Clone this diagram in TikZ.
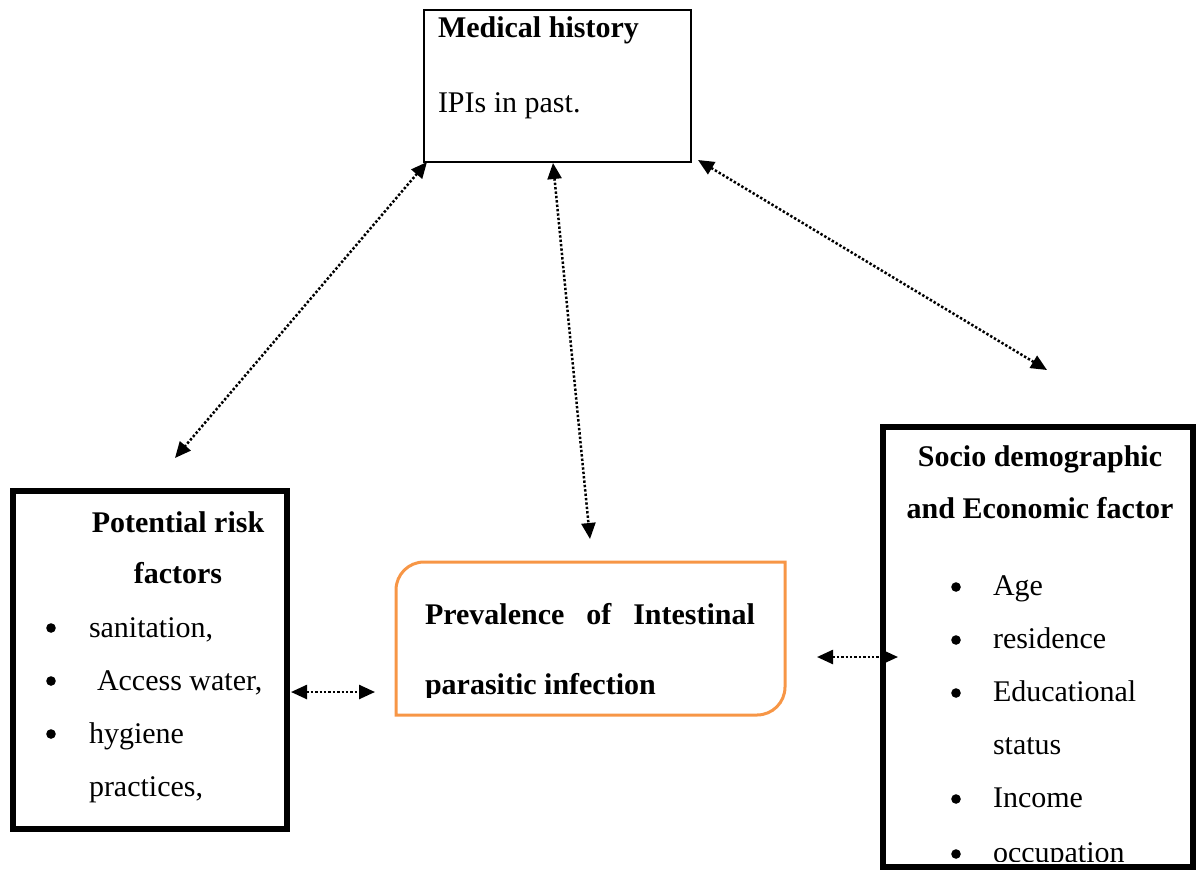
\documentclass[tikz,border=0pt]{standalone}
\usepackage{fontspec}
\setmainfont{Liberation Serif}
\usetikzlibrary{arrows.meta}
\definecolor{boxorange}{HTML}{F79646}
\begin{document}
\begin{tikzpicture}[x=0.5pt,y=-0.5pt,
  txt/.style={inner sep=0pt, outer sep=0pt, anchor=base west, font=\fontsize{15pt}{18pt}\selectfont},
  ctxt/.style={txt, anchor=base},
  btxt/.style={txt, font=\fontsize{15pt}{18pt}\selectfont\bfseries},
  cbtxt/.style={btxt, anchor=base},
  bul/.style={circle, fill=black, inner sep=0pt, outer sep=0pt, minimum size=4.8pt},
  thinbox/.style={draw, line width=1.25pt, inner sep=0pt, outer sep=0pt},
  thickbox/.style={draw, line width=3pt, inner sep=0pt, outer sep=0pt},
  link/.style={line width=1.25pt, dash pattern=on 1.2pt off 1pt,
    {Triangle[length=8pt,width=7pt]}-{Triangle[length=8pt,width=7pt]}}
]
\useasboundingbox (0,0) rectangle (1199,873);

% Medical history box
\node[thinbox, minimum width=133.5pt, minimum height=76pt] (mh) at (557.5,86) {};
\node[btxt] (mhtitle) at (438,37) {Medical history};
\node[txt] (mhtext) at (438,112) {IPIs in past.};

% Potential risk factors box
\node[thickbox, minimum width=137pt, minimum height=169pt] (risk) at (150,660) {};
\node[cbtxt] (risk1) at (178,532) {Potential risk};
\node[cbtxt] (risk2) at (178,583) {factors};
\node[bul] (rb1) at (51,628) {};
\node[txt] (ri1) at (89,637) {sanitation,};
\node[bul] (rb2) at (51,681) {};
\node[txt] (ri2) at (97,690) {Access water,};
\node[bul] (rb3) at (51,734) {};
\node[txt] (ri3) at (89,743) {hygiene};
\node[txt] (ri4) at (89,796) {practices,};

% Prevalence box (orange, two rounded corners)
\draw[boxorange, line width=1.5pt] (396,715) -- (396,590)
  .. controls (396,574.5) and (408.5,562) .. (424,562) -- (785,562) -- (785,687)
  .. controls (785,702.5) and (772.5,715) .. (757,715) -- cycle;
\node[btxt] (prev1) at (425,624) {\makebox[165pt][s]{Prevalence of Intestinal}};
\begin{scope}
  \clip (400,640) rectangle (780,697);
  \node[btxt] (prev2) at (425,694) {parasitic infection};
\end{scope}

% Socio demographic box
\node[thickbox, minimum width=155pt, minimum height=220pt] (socio) at (1038,647) {};
\node[cbtxt] (so1) at (1040,466) {Socio demographic};
\node[cbtxt] (so2) at (1040,518) {and Economic factor};
\node[bul] (sb1) at (956,587) {};
\node[txt] (si1) at (993,595) {Age};
\node[bul] (sb2) at (956,640) {};
\node[txt] (si2) at (993,648) {residence};
\node[bul] (sb3) at (956,693) {};
\node[txt] (si3) at (993,701) {Educational};
\node[txt] (si4) at (993,754) {status};
\node[bul] (sb5) at (956,799) {};
\node[txt] (si5) at (993,807) {Income};
\begin{scope}
  \clip (890,820) rectangle (1190,861);
  \node[bul] (sb6) at (956,854) {};
  \node[txt] (si6) at (993,862) {occupation};
\end{scope}

% connector end points
\coordinate (mhA) at (427,162);
\coordinate (riskA) at (175,458);
\coordinate (mhB) at (553,163);
\coordinate (prevB) at (590,539);
\coordinate (mhC) at (698,160);
\coordinate (socioC) at (1047,370);
\coordinate (riskD) at (291,692);
\coordinate (prevD) at (375,692);
\coordinate (prevE) at (817,657);
\coordinate (socioE) at (898,657);

\draw[link] (mhA) -- (riskA);
\draw[link] (mhB) -- (prevB);
\draw[link] (mhC) -- (socioC);
\draw[link] (riskD) -- (prevD);
\draw[link] (prevE) -- (socioE);
\end{tikzpicture}
\end{document}
